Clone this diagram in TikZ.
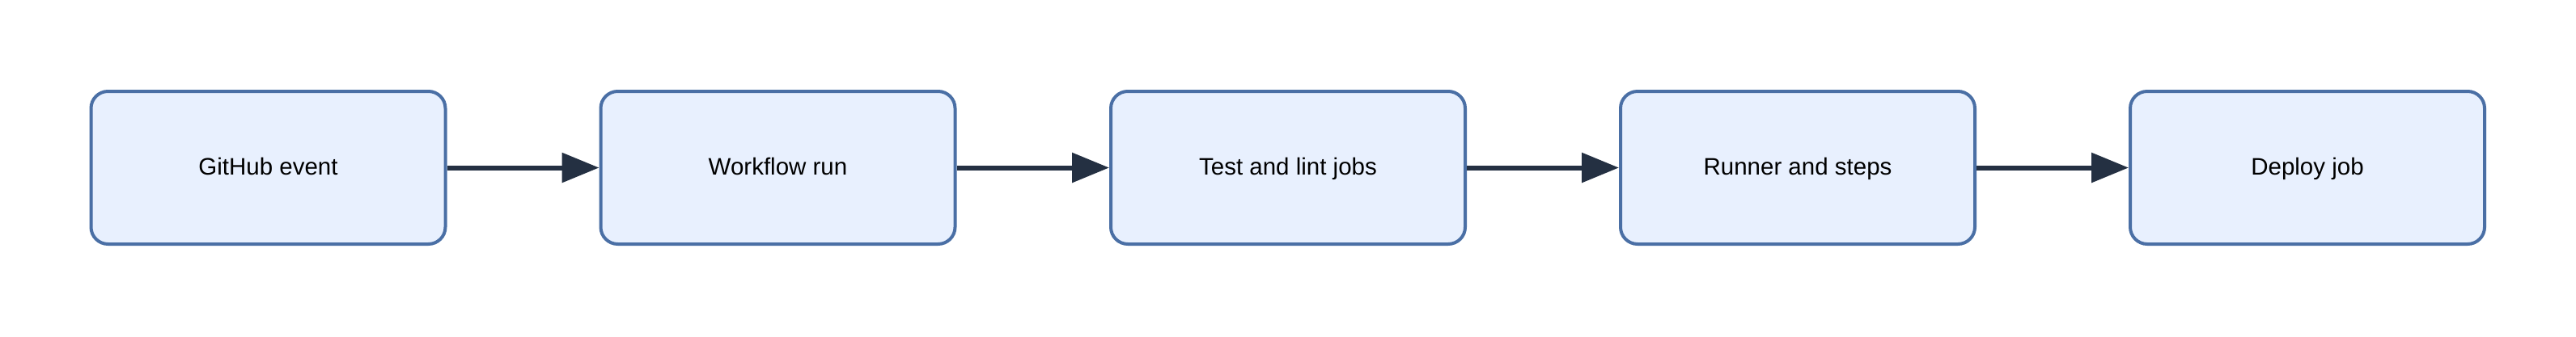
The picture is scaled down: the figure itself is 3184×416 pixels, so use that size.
\documentclass[tikz,border=0pt]{standalone}
\usepackage{fontspec}
\setmainfont{Liberation Sans}
\usetikzlibrary{arrows.meta}
\definecolor{boxfill}{HTML}{E8F0FE}
\definecolor{boxline}{HTML}{4A6FA5}
\definecolor{arrowc}{HTML}{243042}
\begin{document}
\begin{tikzpicture}[x=1pt,y=-1pt,
  stepbox/.style={draw=boxline, fill=boxfill, line width=4pt, rounded corners=21pt,
    minimum width=438pt, minimum height=189pt, inner sep=0pt,
    text height=22pt, text depth=4pt, text=black,
    font=\fontsize{29.5}{35}\selectfont},
  flow/.style={draw=arrowc, line width=6pt, -{Triangle[length=46pt,width=36pt]}}]
\useasboundingbox (0,0) rectangle (3184,416);
\node[stepbox] (a) at (331.5,207.5) {GitHub event};
\node[stepbox] (b) at (961.5,207.5) {Workflow run};
\node[stepbox] (c) at (1592,207.5) {Test and lint jobs};
\node[stepbox] (d) at (2222,207.5) {Runner and steps};
\node[stepbox] (e) at (2852,207.5) {Deploy job};
\draw[flow] (a) -- (b);
\draw[flow] (b) -- (c);
\draw[flow] (c) -- (d);
\draw[flow] (d) -- (e);
\end{tikzpicture}
\end{document}
